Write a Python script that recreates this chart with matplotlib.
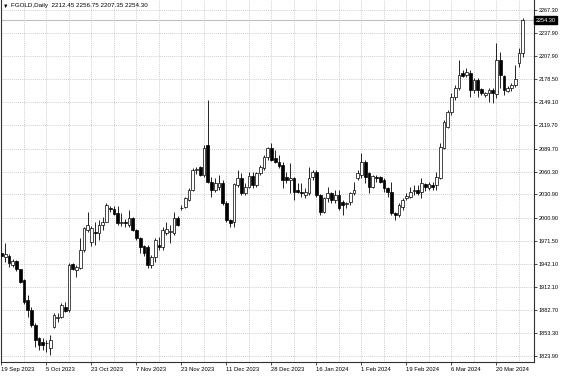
import matplotlib.pyplot as plt
import numpy as np

plt.rcParams['font.family'] = ['Liberation Sans', 'DejaVu Sans']

# daily OHLC (19 Sep 2023 .. end Mar 2024)
opens = [1956, 1951, 1952, 1940, 1945, 1935, 1921, 1896, 1883, 1864,
         1847, 1842, 1840, 1834, 1861, 1873, 1874, 1887, 1883, 1942,
         1934, 1937, 1960, 1985, 1970, 1983, 1981, 1992, 1996, 2013,
         2012, 2007, 1994, 1995, 1992, 2001, 1985, 1975, 1965, 1964,
         1941, 1951, 1966, 1964, 1982, 1983, 1982, 2001, 2013, 2015,
         2024, 2037, 2062, 2066, 2056, 2094, 2047, 2037, 2041, 2046,
         2020, 1998, 1996, 2043, 2052, 2033, 2041, 2055, 2043, 2058,
         2065, 2079, 2091, 2077, 2072, 2069, 2053, 2049, 2052, 2036,
         2034, 2030, 2033, 2053, 2060, 2030, 2008, 2026, 2033, 2024,
         2030, 2021, 2019, 2021, 2033, 2052, 2056, 2072, 2059, 2041,
         2053, 2053, 2049, 2039, 2034, 2007, 2004, 2015, 2026, 2028,
         2035, 2037, 2034, 2044, 2039, 2043, 2043, 2052, 2090, 2117,
         2136, 2156, 2167, 2187, 2184, 2187, 2165, 2178, 2166, 2158,
         2161, 2165, 2160, 2203, 2183, 2164, 2167, 2171, 2199, 2212.45]
highs = [1960, 1969, 1954, 1948, 1947, 1936, 1922, 1902, 1887, 1866,
         1848, 1847, 1844, 1851, 1879, 1879, 1892, 1893, 1943, 1943,
         1941, 1975, 1989, 2008, 1990, 1995, 1998, 2002, 2020, 2016,
         2016, 2016, 2007, 1999, 2011, 2002, 1987, 1976, 1966, 1966,
         1953, 1975, 1976, 1989, 1996, 1992, 2009, 2003, 2017, 2028,
         2039, 2065, 2066, 2068, 2094, 2152, 2053, 2052, 2056, 2050,
         2022, 2000, 2046, 2062, 2058, 2046, 2060, 2060, 2060, 2069,
         2082, 2092, 2097, 2088, 2081, 2073, 2060, 2071, 2053, 2045,
         2045, 2039, 2066, 2062, 2062, 2032, 2028, 2041, 2034, 2037,
         2037, 2024, 2021, 2034, 2047, 2062, 2084, 2075, 2060, 2056,
         2056, 2054, 2052, 2041, 2047, 2008, 2020, 2026, 2033, 2041,
         2043, 2043, 2052, 2046, 2047, 2047, 2060, 2097, 2126, 2139,
         2161, 2171, 2203, 2190, 2193, 2190, 2180, 2180, 2167, 2162,
         2167, 2167, 2225, 2214, 2184, 2170, 2174, 2197, 2219, 2256.75]
lows = [1948, 1944, 1938, 1938, 1933, 1917, 1891, 1874, 1861, 1835,
        1832, 1832, 1829, 1825, 1860, 1867, 1872, 1880, 1880, 1934,
        1925, 1935, 1957, 1983, 1965, 1966, 1972, 1985, 1995, 2008,
        2004, 1992, 1990, 1989, 1989, 1984, 1973, 1956, 1952, 1937,
        1937, 1944, 1960, 1960, 1979, 1969, 1979, 1990, 2011, 2013,
        2022, 2035, 2057, 2054, 2053, 2045, 2028, 2034, 2037, 2017,
        1996, 1989, 1989, 2040, 2030, 2030, 2039, 2039, 2041, 2056,
        2062, 2075, 2074, 2071, 2065, 2039, 2045, 2033, 2024, 2033,
        2028, 2026, 2030, 2049, 2028, 2004, 2007, 2021, 2020, 2020,
        2011, 2004, 2014, 2017, 2030, 2049, 2052, 2045, 2033, 2039,
        2047, 2045, 2034, 2028, 2005, 1998, 2002, 2011, 2024, 2026,
        2030, 2030, 2026, 2035, 2037, 2037, 2037, 2051, 2089, 2116,
        2133, 2152, 2165, 2181, 2181, 2156, 2161, 2156, 2158, 2156,
        2149, 2148, 2155, 2167, 2158, 2162, 2164, 2168, 2194, 2207.35]
closes = [1952, 1955, 1943, 1946, 1935, 1919, 1893, 1883, 1864, 1844,
          1838, 1838, 1841, 1844, 1876, 1874, 1889, 1882, 1940, 1935,
          1938, 1960, 1988, 1992, 1988, 1982, 1992, 1996, 2017, 2012,
          2006, 1994, 1995, 1994, 2001, 1985, 1975, 1963, 1956, 1941,
          1951, 1973, 1964, 1985, 1986, 1984, 2001, 1992, 2014, 2026,
          2037, 2062, 2063, 2056, 2090, 2047, 2037, 2046, 2046, 2020,
          1998, 1994, 2044, 2052, 2033, 2041, 2054, 2043, 2058, 2066,
          2079, 2091, 2075, 2072, 2067, 2049, 2049, 2052, 2034, 2034,
          2033, 2034, 2052, 2060, 2030, 2008, 2026, 2033, 2024, 2030,
          2014, 2017, 2020, 2033, 2037, 2059, 2072, 2053, 2041, 2054,
          2052, 2047, 2039, 2034, 2007, 2004, 2017, 2024, 2029, 2034,
          2036, 2033, 2046, 2040, 2044, 2040, 2053, 2092, 2124, 2137,
          2156, 2167, 2184, 2183, 2188, 2165, 2178, 2165, 2161, 2161,
          2165, 2161, 2203, 2184, 2165, 2167, 2171, 2179, 2212, 2254.30]

date_labels = ["19 Sep 2023", "5 Oct 2023", "23 Oct 2023", "7 Nov 2023",
               "23 Nov 2023", "11 Dec 2023", "28 Dec 2023", "16 Jan 2024",
               "1 Feb 2024", "19 Feb 2024", "6 Mar 2024", "20 Mar 2024"]
price_ticks = [1823.90, 1853.30, 1882.70, 1912.10, 1942.10, 1971.50, 2000.90,
               2030.90, 2060.30, 2089.70, 2119.70, 2149.10, 2178.50, 2207.90,
               2237.90, 2267.30]

o = np.array(opens, dtype=float)
h = np.array(highs, dtype=float)
l = np.array(lows, dtype=float)
c = np.array(closes, dtype=float)
x = np.arange(len(o))
up = c >= o

fig = plt.figure(figsize=(5.64, 3.76), dpi=100)
ax = fig.add_axes([1/564, 14/376, 533/564, 362/376])

ax.vlines(x, l, h, color='black', lw=0.6, zorder=2)
ax.bar(x, np.abs(c - o), bottom=np.minimum(o, c), width=0.74,
       color=np.where(up, 'white', 'black'), edgecolor='black', lw=0.5, zorder=3)

# bid line
ax.axhline(c[-1], color='#c0c0c0', lw=0.8, zorder=1)

ax.set_xlim(-0.13, 142)
ax.set_ylim(1816.2, 2280.1)

ax.yaxis.tick_right()
ax.set_yticks(price_ticks)
ax.set_yticklabels(["%.2f" % v for v in price_ticks], fontsize=4.0)
ax.set_xticks(np.arange(0, 12 * len(date_labels), 12))
ax.set_xticklabels(date_labels, fontsize=4.2, ha='left')
ax.set_xticks(np.arange(6, 142, 12), minor=True)
ax.tick_params(axis='both', which='major', length=2, width=0.5, pad=1.5, colors='black')
ax.tick_params(axis='x', which='minor', length=0)

ax.grid(True, which='both', color='#bcbcbc', ls=(0, (1, 1.5)), lw=0.6)
ax.set_axisbelow(True)
for s in ['left', 'right', 'bottom']:
    ax.spines[s].set_color('#303030')
    ax.spines[s].set_linewidth(0.8)
ax.spines['top'].set_visible(False)

ax.text(1.003, c[-1], "%.2f" % c[-1], transform=ax.get_yaxis_transform(),
        fontsize=4.0, color='white', va='center', ha='left',
        bbox=dict(boxstyle='square,pad=0.25', fc='black', ec='black'))

fig.text(3/564, 1 - 6/376, "\u25bc", fontsize=4, va='center', ha='left')
fig.text(11/564, 1 - 6/376, "FGOLD,Daily  %.2f %.2f %.2f %.2f" % (o[-1], h[-1], l[-1], c[-1]),
         fontsize=4.5, va='center', ha='left')

fig.savefig("out.png", dpi=100)
